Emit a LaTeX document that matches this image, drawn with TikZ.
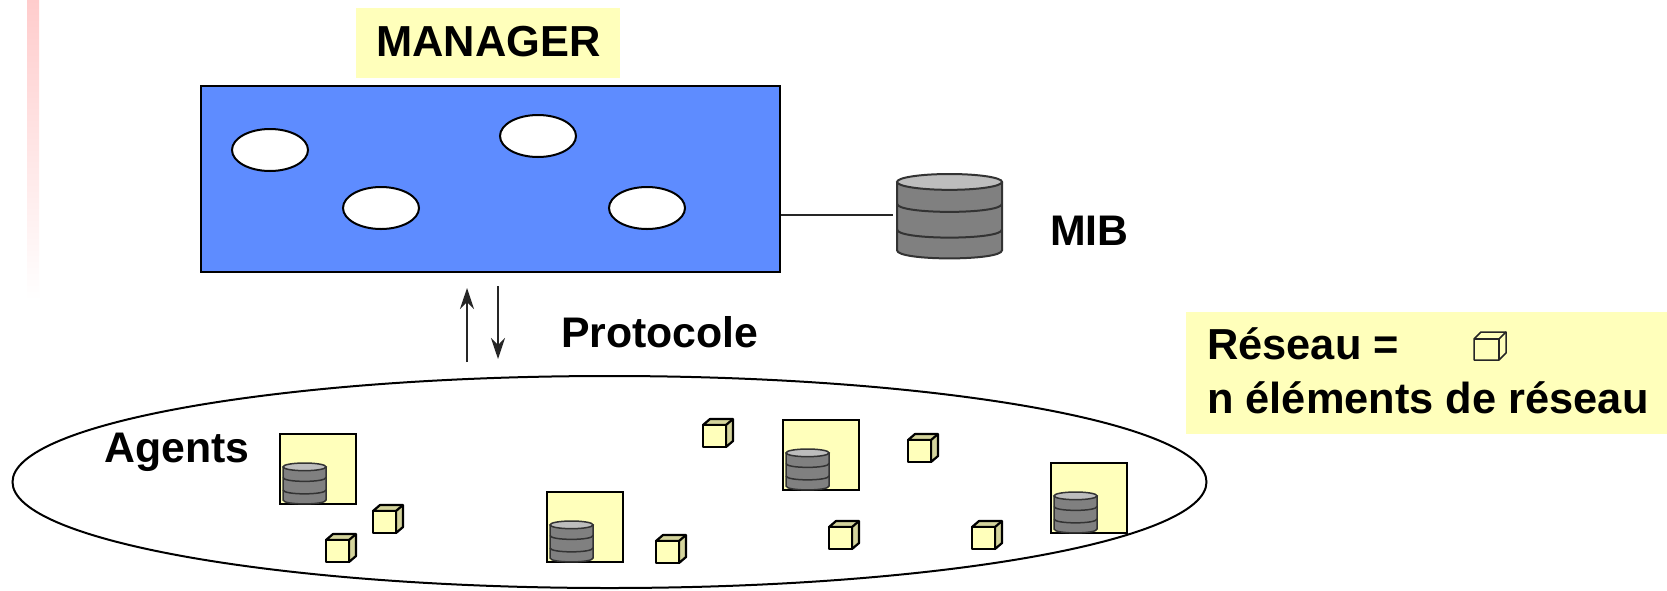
\documentclass[tikz,border=0pt]{standalone}
\usepackage{fontspec}
\setmainfont{Liberation Sans}
\definecolor{mgrblue}{HTML}{5E8CFF}
\definecolor{paleyel}{HTML}{FFFFBB}
\definecolor{cubeside}{HTML}{D4D49C}
\definecolor{dbgray}{HTML}{808080}
\definecolor{dbtop}{HTML}{BDBDBD}
\definecolor{stripe}{HTML}{FFCCCC}
\tikzset{
  lbl/.style={anchor=base west,inner sep=0pt,font=\fontsize{43.4}{50}\selectfont\bfseries,text=black},
  lblb/.style={anchor=base west,inner sep=0pt,font=\fontsize{42.8}{50}\selectfont\bfseries,text=black},
  hole/.style={ellipse,draw=black,line width=2pt,fill=white,minimum width=76pt,minimum height=42pt,inner sep=0pt},
  agentbox/.style={anchor=north west,rectangle,draw=black,line width=2.2pt,fill=paleyel,minimum width=76pt,minimum height=70pt,inner sep=0pt},
  link/.style={draw=black!85,line width=1.8pt},
  flow/.style={draw=black!85,line width=1.8pt,-{Stealth[length=21pt,width=14pt,inset=7pt]}}
}
\usetikzlibrary{shapes.geometric,arrows.meta}
\newcommand{\dbstack}[6]{%
  \begin{scope}[shift={(#1,#2)},x=#3pt,y=-#4pt,line width=#5pt,draw=black!80]
    \coordinate (#6) at (0,43);
    \path[fill=dbgray] (0,8) -- (0,77) .. controls (0,88) and (105,88) .. (105,77) -- (105,8) -- cycle;
    \draw (0,8) -- (0,77) .. controls (0,88) and (105,88) .. (105,77) -- (105,8);
    \draw (0,30) .. controls (0,41) and (105,41) .. (105,30);
    \draw (0,56) .. controls (0,67) and (105,67) .. (105,56);
    \draw[fill=dbtop] (52.5,8) ellipse [x radius=52.5,y radius=8];
  \end{scope}}
\newcommand{\netcube}[2]{%
  \begin{scope}[shift={(#1,#2)},line width=2.2pt,draw=black,line join=round]
    \draw[fill=cubeside] (0,6) -- (7,0) -- (30,0) -- (30,22) -- (23,28) -- (23,6) -- cycle;
    \draw (23,6) -- (30,0);
    \draw[fill=paleyel] (0,6) rectangle (23,28);
  \end{scope}}
\begin{document}
\begin{tikzpicture}[x=1pt,y=-1pt]
  \path[use as bounding box,fill=white] (0,0) rectangle (1667,590);
  \shade[top color=stripe,bottom color=white] (27,0) rectangle (39,300);
  % manager
  \path[fill=paleyel] (356,8) rectangle (620,78);
  \node[lbl] (mgrlabel) at (376,56) {MANAGER};
  \node[rectangle,draw=black,line width=2pt,fill=mgrblue,anchor=north west,minimum width=579pt,minimum height=186pt,inner sep=0pt] (manager) at (200,85) {};
  \node[hole] (h1) at (270,150) {};
  \node[hole] (h2) at (538,136) {};
  \node[hole] (h3) at (381,208) {};
  \node[hole] (h4) at (647,208) {};
  % MIB
  \dbstack{897}{174}{1}{0.99}{2}{mibcyl}
  \coordinate (mibend) at (893,215);
  \draw[link] (manager.east |- mibend) -- (mibend);
  \node[lblb] (miblabel) at (1050,245) {MIB};
  % protocol arrows
  \coordinate (upa) at (467,362);
  \coordinate (upb) at (467,288);
  \coordinate (dna) at (498,286);
  \coordinate (dnb) at (498,359);
  \draw[flow] (upa) -- (upb);
  \draw[flow] (dna) -- (dnb);
  \node[lblb] (proto) at (561,347) {Protocole};
  % network ellipse
  \node[ellipse,draw=black,line width=2pt,fill=white,minimum width=1194pt,minimum height=212pt,inner sep=0pt] (net) at (609.5,482) {};
  \node[lblb] (agents) at (104,462) {Agents};
  % agents
  \node[agentbox] (a1) at (279,433) {};
  \node[agentbox] (a2) at (546,491) {};
  \node[agentbox] (a3) at (782,419) {};
  \node[agentbox] (a4) at (1050,462) {};
  \dbstack{283}{463}{0.41}{0.48}{1.5}{d1}
  \dbstack{550}{521}{0.41}{0.48}{1.5}{d2}
  \dbstack{786}{449}{0.41}{0.48}{1.5}{d3}
  \dbstack{1054}{492}{0.41}{0.48}{1.5}{d4}
  \netcube{373}{505}
  \netcube{326}{534}
  \netcube{656}{535}
  \netcube{703}{419}
  \netcube{908}{434}
  \netcube{829}{521}
  \netcube{972}{521}
  % legend
  \path[fill=paleyel] (1186,312) rectangle (1667,434);
  \node[lbl] (res1) at (1207,359) {Réseau =};
  \node[lbl] (res2) at (1207,413) {n éléments de réseau};
  \begin{scope}[shift={(1474,332)},line width=1.5pt,draw=black!85,line join=round]
    \draw (0,7) -- (7,0) -- (32,0) -- (32,21) -- (25,28) -- (0,28) -- cycle;
    \draw (0,7) -- (25,7) -- (25,28);
    \draw (25,7) -- (32,0);
  \end{scope}
\end{tikzpicture}
\end{document}
